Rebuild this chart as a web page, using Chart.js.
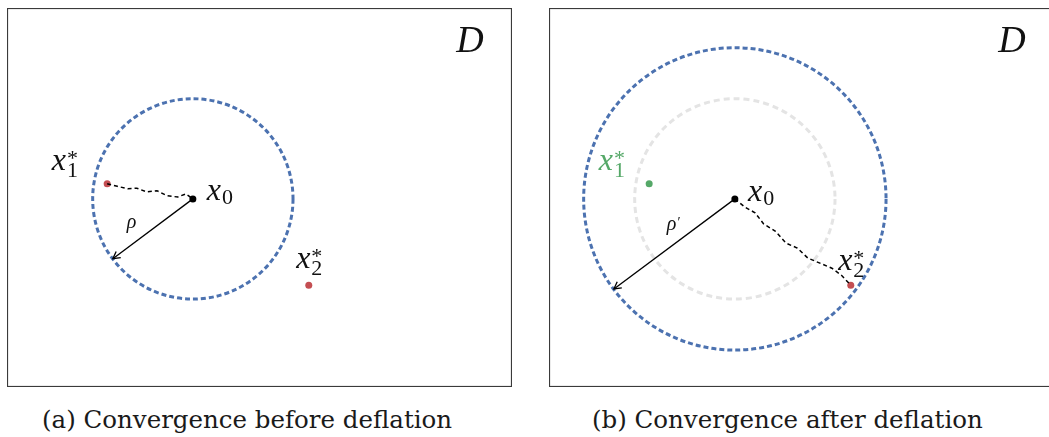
<!DOCTYPE html>
<html>
<head>
<meta charset="utf-8">
<script src="https://cdn.jsdelivr.net/npm/chart.js@4.4.1/dist/chart.umd.min.js"></script>
<style>
  html, body { margin: 0; padding: 0; background: #fff; }
  body { width: 1049px; height: 437px; overflow: hidden; position: relative; }
  canvas { position: absolute; top: 8px; }
  #panelA { left: 7px; }
  #panelB { left: 549px; }
  .caption {
    position: absolute; top: 406px;
    font-family: "DejaVu Serif", serif; font-size: 24.5px; line-height: 28px;
    color: #1a1a1a; white-space: nowrap;
  }
  #capA { left: 42px; }
  #capB { left: 592px; }
</style>
</head>
<body>
<canvas id="panelA" width="505" height="379"></canvas>
<canvas id="panelB" width="505" height="379"></canvas>
<div class="caption" id="capA"></div>
<div class="caption" id="capB"></div>
<script>
// domain D is 8 x 6 units
const center = [2.95, 2.97];        // x0
const radiusBefore = 1.59;          // rho
const radiusAfter = 2.40;           // rho'

const minimaX = [1.59, 4.79];       // x1*, x2*
const minimaY = [3.21, 1.60];

const pathBeforeX = [1.59, 1.75, 1.92, 2.06, 2.22, 2.38, 2.54, 2.71, 2.84, 2.95];
const pathBeforeY = [3.21, 3.17, 3.13, 3.14, 3.08, 3.10, 3.02, 3.00, 3.05, 2.97];

const pathAfterX = [2.95, 3.11, 3.27, 3.41, 3.59, 3.76, 3.94, 4.11, 4.30, 4.49, 4.65, 4.79];
const pathAfterY = [2.97, 2.84, 2.75, 2.57, 2.46, 2.27, 2.19, 2.03, 1.95, 1.87, 1.75, 1.60];

const arrowBefore = [1.68, 2.02];
const arrowAfter = [1.03, 1.54];

const captions = ['(a) Convergence before deflation', '(b) Convergence after deflation'];

const BLUE = '#4c72b0';
const RED = '#c44e52';
const GREEN = '#55a868';
const SERIF = '"Liberation Serif", "Times New Roman", "DejaVu Serif", serif';

function pts(xs, ys) {
  return xs.map((x, i) => ({ x: x, y: ys[i] }));
}

function drawMath(ctx, px, py, l) {
  const size = l.size || 32;
  ctx.fillStyle = l.color || '#111';
  ctx.textBaseline = 'alphabetic';
  ctx.textAlign = 'left';
  ctx.font = 'italic ' + size + 'px ' + SERIF;
  ctx.fillText(l.base, px, py);
  const w = ctx.measureText(l.base).width;
  const small = Math.round(size * 0.68);
  ctx.font = small + 'px ' + SERIF;
  if (l.sub) ctx.fillText(l.sub, px + w + 1, py + size * (l.sup ? 0.22 : 0.13));
  if (l.sup) ctx.fillText(l.sup, px + w + 1, py - size * 0.16);
}

// circles, arrow head, frame and labels
function decor(spec) {
  return {
    id: 'decor',
    beforeDatasetsDraw(chart) {
      const { ctx, chartArea, scales } = chart;
      ctx.save();
      ctx.beginPath();
      ctx.rect(chartArea.left, chartArea.top, chartArea.width, chartArea.height);
      ctx.clip();
      spec.rings.forEach(r => {
        const cx = scales.x.getPixelForValue(r.cx);
        const cy = scales.y.getPixelForValue(r.cy);
        const rad = scales.x.getPixelForValue(r.cx + r.r) - cx;
        ctx.beginPath();
        ctx.setLineDash(r.dash);
        ctx.lineWidth = r.width;
        ctx.strokeStyle = r.color;
        ctx.arc(cx, cy, rad, 0, Math.PI * 2);
        ctx.stroke();
      });
      ctx.restore();
    },
    afterDatasetsDraw(chart) {
      const ctx = chart.ctx;
      const p = chart.getDatasetMeta(spec.arrowIndex).data;
      const a = p[0], b = p[p.length - 1];
      const ang = Math.atan2(b.y - a.y, b.x - a.x);
      const len = 8, spread = 0.5;
      ctx.save();
      ctx.strokeStyle = '#000';
      ctx.lineWidth = 1.3;
      ctx.beginPath();
      ctx.moveTo(b.x - len * Math.cos(ang - spread), b.y - len * Math.sin(ang - spread));
      ctx.lineTo(b.x, b.y);
      ctx.lineTo(b.x - len * Math.cos(ang + spread), b.y - len * Math.sin(ang + spread));
      ctx.stroke();
      ctx.restore();
    },
    afterDraw(chart) {
      const { ctx, chartArea, scales } = chart;
      ctx.save();
      ctx.strokeStyle = '#3a3a3a';
      ctx.lineWidth = 1.2;
      ctx.strokeRect(chartArea.left + 0.5, chartArea.top + 0.5, chartArea.width, chartArea.height);
      spec.labels.forEach(l => {
        drawMath(ctx, scales.x.getPixelForValue(l.x), scales.y.getPixelForValue(l.y), l);
      });
      ctx.restore();
    }
  };
}

function makeChart(id, datasets, spec) {
  return new Chart(document.getElementById(id), {
    type: 'scatter',
    data: { datasets: datasets },
    options: {
      responsive: false,
      animation: false,
      devicePixelRatio: 1,
      events: [],
      layout: { autoPadding: false, padding: { left: 0, top: 0, right: 1, bottom: 1 } },
      scales: {
        x: { type: 'linear', min: 0, max: 8, display: false },
        y: { type: 'linear', min: 0, max: 6, display: false }
      },
      plugins: { legend: { display: false }, tooltip: { enabled: false } }
    },
    plugins: [decor(spec)]
  });
}

const c0 = { x: center[0], y: center[1] };

makeChart('panelA', [
  { data: pts(pathBeforeX, pathBeforeY), showLine: true, borderColor: '#000', borderWidth: 1.5,
    borderDash: [4, 3], pointRadius: 0, tension: 0 },
  { data: [c0, { x: arrowBefore[0], y: arrowBefore[1] }], showLine: true, borderColor: '#000',
    borderWidth: 1.3, pointRadius: 0 },
  { data: pts(minimaX, minimaY), pointRadius: 3.5, backgroundColor: RED, borderWidth: 0 },
  { data: [c0], pointRadius: 3.5, backgroundColor: '#000', borderWidth: 0 }
], {
  arrowIndex: 1,
  rings: [
    { cx: center[0], cy: center[1], r: radiusBefore, color: BLUE, width: 3, dash: [5, 3] }
  ],
  labels: [
    { x: 0.71, y: 3.43, base: 'x', sub: '1', sup: '*' },
    { x: 3.17, y: 2.95, base: 'x', sub: '0' },
    { x: 4.59, y: 1.87, base: 'x', sub: '2', sup: '*' },
    { x: 1.90, y: 2.51, base: 'ρ', size: 20 },
    { x: 7.13, y: 5.30, base: 'D', size: 38 }
  ]
});

makeChart('panelB', [
  { data: pts(pathAfterX, pathAfterY), showLine: true, borderColor: '#000', borderWidth: 1.5,
    borderDash: [4, 3], pointRadius: 0, tension: 0 },
  { data: [c0, { x: arrowAfter[0], y: arrowAfter[1] }], showLine: true, borderColor: '#000',
    borderWidth: 1.3, pointRadius: 0 },
  { data: pts(minimaX, minimaY), pointRadius: 3.5, backgroundColor: [GREEN, RED], borderWidth: 0 },
  { data: [c0], pointRadius: 3.5, backgroundColor: '#000', borderWidth: 0 }
], {
  arrowIndex: 1,
  rings: [
    { cx: center[0], cy: center[1], r: radiusBefore, color: '#e4e4e4', width: 3, dash: [6, 4] },
    { cx: center[0], cy: center[1], r: radiusAfter, color: BLUE, width: 3, dash: [5, 3] }
  ],
  labels: [
    { x: 0.79, y: 3.43, base: 'x', sub: '1', sup: '*', color: GREEN },
    { x: 3.16, y: 2.94, base: 'x', sub: '0' },
    { x: 4.59, y: 1.84, base: 'x', sub: '2', sup: '*' },
    { x: 1.87, y: 2.48, base: 'ρ', sup: '′', size: 20 },
    { x: 7.13, y: 5.30, base: 'D', size: 38 }
  ]
});

document.getElementById('capA').textContent = captions[0];
document.getElementById('capB').textContent = captions[1];
</script>
</body>
</html>
